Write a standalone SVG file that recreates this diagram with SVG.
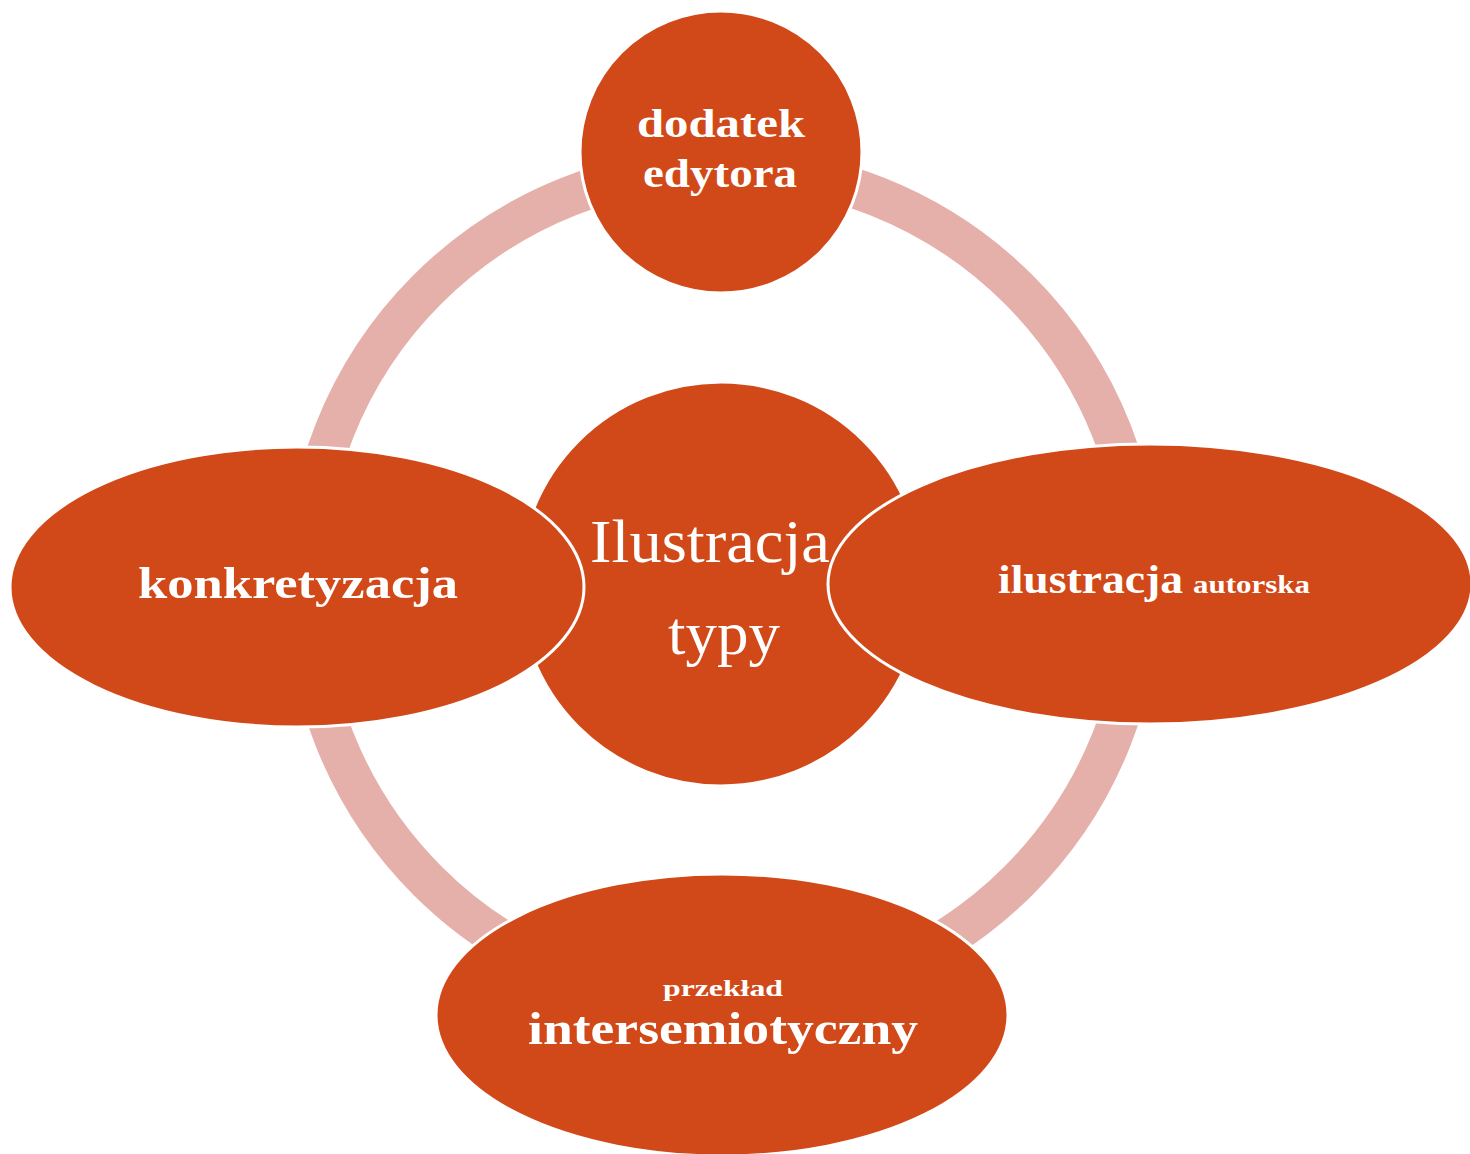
<svg xmlns="http://www.w3.org/2000/svg" width="1470" height="1154" viewBox="0 0 1470 1154">
<style>
.node{fill:#D14918;stroke:#FFFFFF;stroke-width:3}
.ring{fill:none;stroke:#E6B0AA;stroke-width:40}
.t{fill:#FFFFFF;font-family:"Liberation Serif","DejaVu Serif",serif;font-weight:bold}
.c{fill:#FFFFFF;font-family:"Liberation Serif","DejaVu Serif",serif;font-weight:normal}
</style>
<rect x="0" y="0" width="1470" height="1154" fill="#FFFFFF"/>
<g id="connectors">
<circle class="ring" cx="723" cy="585" r="418"/>
</g>
<g id="center">
<circle class="node" cx="721" cy="584" r="202"/>
<text class="c" x="590" y="562" font-size="62" textLength="240" lengthAdjust="spacingAndGlyphs">Ilustracja</text>
<text class="c" x="668" y="654" font-size="62" textLength="112" lengthAdjust="spacingAndGlyphs">typy</text>
</g>
<g id="node-top">
<circle class="node" cx="721" cy="152" r="141"/>
<text class="t" x="637" y="137" font-size="40" textLength="168" lengthAdjust="spacingAndGlyphs">dodatek</text>
<text class="t" x="643" y="187" font-size="40" textLength="154" lengthAdjust="spacingAndGlyphs">edytora</text>
</g>
<g id="node-left">
<ellipse class="node" cx="297" cy="587" rx="287" ry="140"/>
<text class="t" x="138" y="598" font-size="44" textLength="320" lengthAdjust="spacingAndGlyphs">konkretyzacja</text>
</g>
<g id="node-right">
<ellipse class="node" cx="1150" cy="584" rx="322" ry="140"/>
<text class="t" x="998" y="593" font-size="40" textLength="185" lengthAdjust="spacingAndGlyphs">ilustracja</text>
<text class="t" x="1193" y="593" font-size="25" textLength="117" lengthAdjust="spacingAndGlyphs">autorska</text>
</g>
<g id="node-bottom">
<ellipse class="node" cx="722" cy="1015" rx="286" ry="141"/>
<text class="t" x="663" y="996" font-size="24" textLength="120" lengthAdjust="spacingAndGlyphs">przekład</text>
<text class="t" x="528" y="1044" font-size="46" textLength="390" lengthAdjust="spacingAndGlyphs">intersemiotyczny</text>
</g>
</svg>
